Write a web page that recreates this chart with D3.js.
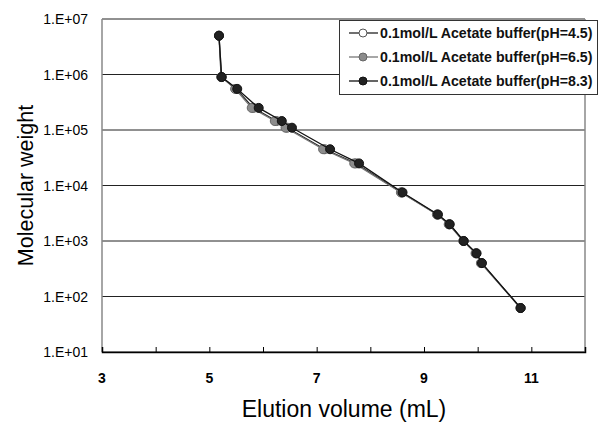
<!DOCTYPE html>
<html lang="en">
<head>
  <meta charset="UTF-8" />
  <title>Elution volume vs molecular weight</title>
  <script src="https://d3js.org/d3.v7.min.js"></script>
  <style>
    body { margin: 0; background: #fff; font-family: Arial, "Liberation Sans", sans-serif; }
  </style>
</head>
<body>
  <div id="chart"></div>
  <script>
    // data
    const molWeight = [5e6, 9e5, 5.5e5, 2.5e5, 1.45e5, 1.1e5, 4.5e4, 2.5e4, 7.5e3, 3e3, 2e3, 1e3, 6e2, 4e2, 62];
    const volPH45 = [5.18, 5.22, 5.5, 5.82, 6.25, 6.45, 7.15, 7.73, 8.58, 9.25, 9.47, 9.74, 9.97, 10.07, 10.8];
    const volPH65 = [5.18, 5.23, 5.48, 5.79, 6.22, 6.42, 7.12, 7.7, 8.57, 9.24, 9.46, 9.73, 9.96, 10.06, 10.8];
    const volPH83 = [5.18, 5.23, 5.52, 5.92, 6.35, 6.54, 7.25, 7.79, 8.6, 9.26, 9.48, 9.74, 9.98, 10.08, 10.8];
    const seriesNames = [
      "0.1mol/L Acetate buffer(pH=4.5)",
      "0.1mol/L Acetate buffer(pH=6.5)",
      "0.1mol/L Acetate buffer(pH=8.3)"
    ];
    const xTickLabels = [3, 5, 7, 9, 11];
    const yTickValues = [1e1, 1e2, 1e3, 1e4, 1e5, 1e6, 1e7];

    const width = 598, height = 427;
    const margin = { top: 19, right: 13, bottom: 75, left: 102 };

    const svg = d3.select("#chart").append("svg")
      .attr("width", width)
      .attr("height", height);

    const x = d3.scaleLinear().domain([3, 12]).range([margin.left, width - margin.right]);
    const y = d3.scaleLog().domain([1e1, 1e7]).range([height - margin.bottom, margin.top]);

    // horizontal gridlines
    svg.append("g")
      .selectAll("line")
      .data(yTickValues)
      .enter().append("line")
      .attr("x1", x(3)).attr("x2", x(12))
      .attr("y1", d => y(d)).attr("y2", d => y(d))
      .attr("stroke", "#222").attr("stroke-width", 1);

    // plot frame: left and right grey
    svg.append("line")
      .attr("x1", x(3)).attr("x2", x(3))
      .attr("y1", y(1e7)).attr("y2", y(1e1))
      .attr("stroke", "#888").attr("stroke-width", 1.5);
    svg.append("line")
      .attr("x1", x(12)).attr("x2", x(12))
      .attr("y1", y(1e7)).attr("y2", y(1e1))
      .attr("stroke", "#888").attr("stroke-width", 1.5);

    // x axis with inward ticks
    const xAxis = svg.append("g")
      .attr("transform", `translate(0,${y(1e1)})`)
      .call(d3.axisBottom(x).tickValues(d3.range(3, 13, 1)).tickSize(-5).tickFormat(""));
    xAxis.select(".domain").attr("stroke", "#000").attr("stroke-width", 1.5);
    xAxis.selectAll(".tick line").attr("stroke", "#000");

    svg.append("g")
      .selectAll("text")
      .data(xTickLabels)
      .enter().append("text")
      .attr("x", d => x(d))
      .attr("y", y(1e1) + 31)
      .attr("text-anchor", "middle")
      .attr("font-size", 14)
      .attr("font-weight", "bold")
      .text(d => d);

    // y tick labels
    const yFmt = d => "1.E+" + String(Math.round(Math.log10(d))).padStart(2, "0");
    svg.append("g")
      .selectAll("text")
      .data(yTickValues)
      .enter().append("text")
      .attr("x", margin.left - 14)
      .attr("y", d => y(d) + 5)
      .attr("text-anchor", "end")
      .attr("font-size", 14)
      .text(yFmt);

    // axis titles
    svg.append("text")
      .attr("transform", `translate(33,${(y(1e7) + y(1e1)) / 2}) rotate(-90)`)
      .attr("text-anchor", "middle")
      .attr("font-size", 21.5)
      .text("Molecular weight");
    svg.append("text")
      .attr("x", 344)
      .attr("y", 417)
      .attr("text-anchor", "middle")
      .attr("font-size", 23)
      .text("Elution volume (mL)");

    const series = [
      { name: seriesNames[0], vols: volPH45, fill: "#fff", line: "#222", stroke: "#555" },
      { name: seriesNames[1], vols: volPH65, fill: "#8c8c8c", line: "#777", stroke: "#666" },
      { name: seriesNames[2], vols: volPH83, fill: "#222", line: "#111", stroke: "#111" }
    ];

    const line = d3.line().x(d => x(d[0])).y(d => y(d[1]));

    series.forEach(s => {
      const pts = s.vols.map((v, i) => [v, molWeight[i]]);
      svg.append("path")
        .datum(pts)
        .attr("d", line)
        .attr("fill", "none")
        .attr("stroke", s.line)
        .attr("stroke-width", 1.3);
      svg.append("g")
        .selectAll("circle")
        .data(pts)
        .enter().append("circle")
        .attr("cx", d => x(d[0]))
        .attr("cy", d => y(d[1]))
        .attr("r", 4.5)
        .attr("fill", s.fill)
        .attr("stroke", s.stroke)
        .attr("stroke-width", 1);
    });

    // legend
    const legend = svg.append("g");
    legend.append("rect")
      .attr("x", 339.5).attr("y", 20.5)
      .attr("width", 258).attr("height", 74)
      .attr("fill", "#fff").attr("stroke", "#333").attr("stroke-width", 1);

    series.forEach((s, i) => {
      const ly = 33 + i * 24;
      legend.append("line")
        .attr("x1", 349).attr("x2", 378)
        .attr("y1", ly).attr("y2", ly)
        .attr("stroke", s.line).attr("stroke-width", 1.3);
      legend.append("circle")
        .attr("cx", 363).attr("cy", ly).attr("r", 4)
        .attr("fill", s.fill).attr("stroke", s.stroke);
      legend.append("text")
        .attr("x", 380).attr("y", ly + 5)
        .attr("font-size", 14.2)
        .attr("font-weight", "bold")
        .attr("fill", "#111")
        .text(s.name);
    });
  </script>
</body>
</html>
